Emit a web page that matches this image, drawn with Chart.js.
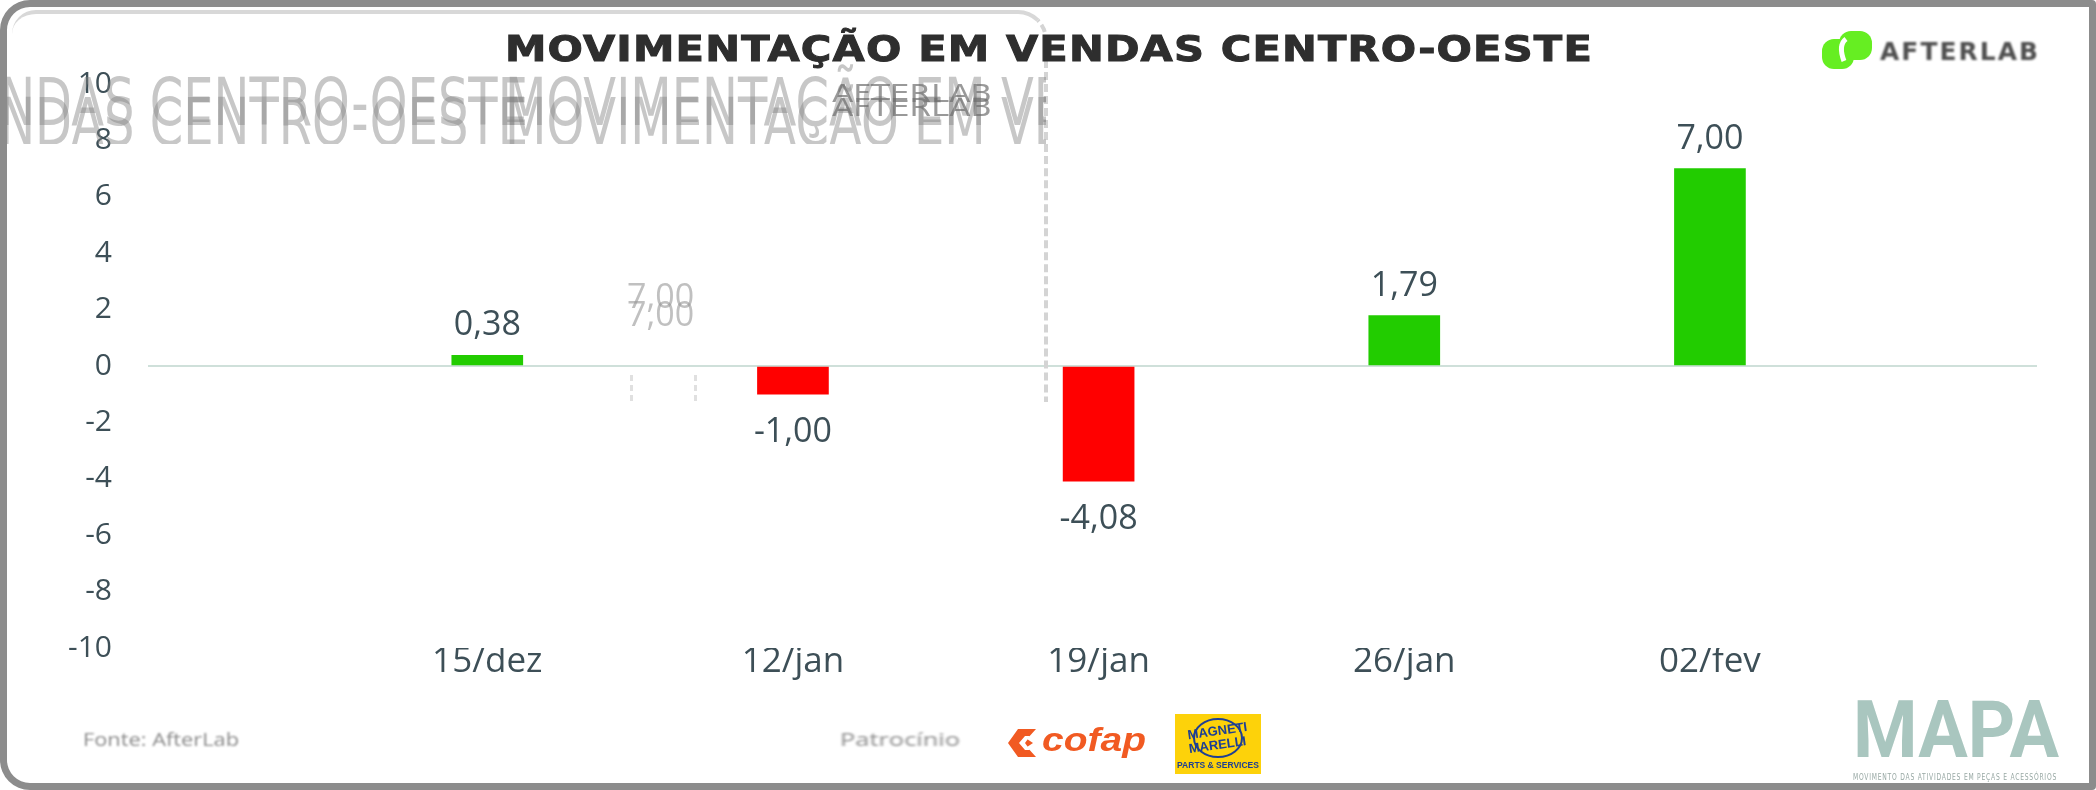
<!DOCTYPE html>
<html lang="pt-BR">
<head>
<meta charset="utf-8">
<title>Movimentação em vendas Centro-Oeste</title>
<script src="https://cdn.jsdelivr.net/npm/chart.js@4.4.1/dist/chart.umd.min.js"></script>
<style>
  html, body { margin: 0; padding: 0; background: #fff; }
  #wrap { position: relative; width: 2096px; height: 790px; overflow: hidden; background: #fff; font-family: 'Open Sans', sans-serif; }
  #vendasChart { position: absolute; left: 0; top: 0; }
  .abs { position: absolute; white-space: nowrap; transform-origin: 0 0; }
  .frame { position: absolute; left: 0; top: 0; width: 2096px; height: 790px; box-sizing: border-box; border: 7px solid #8c8c8c; border-radius: 30px 4px 4px 30px; pointer-events: none; }
  .ghost-box { position: absolute; left: 12px; top: 10px; width: 1036px; height: 392px; box-sizing: border-box; border-top: 4px solid #d8d8d8; border-right: 4px dashed #d4d4d4; border-radius: 24px 30px 0 0; }
  .title { left: 505px; top: 28px; font: bold 36px 'DejaVu Sans'; color: #2e2e2e; letter-spacing: 1px; -webkit-text-stroke: 1px #2e2e2e; }
  .ghost-row { position: absolute; left: 0; top: 64px; width: 1046px; height: 80px; overflow: hidden; }
  .ghost-row .abs { font: 36px 'DejaVu Sans'; color: rgba(130,130,130,0.45); }
  .ghost-lab { font: 24px 'DejaVu Sans'; color: rgba(110,110,110,0.7); }
  .ghost-val { font: 34px 'Open Sans'; color: rgba(150,150,150,0.6); }
  .dash { position: absolute; border-left: 3px dashed #e0e0e0; }
  .logo-text { left: 1880px; top: 38px; font: bold 24px 'DejaVu Sans'; color: #505050; letter-spacing: 2px; filter: blur(0.8px); }
  .foot { font: 19px 'Open Sans'; color: #8a8a8a; filter: blur(1px); }
  .mapa { left: 1853px; top: 690px; font: bold 80px 'Roboto'; color: #a9c6bf; line-height: 1; }
  .mapa-sub { left: 1853px; top: 773px; font: 8px 'DejaVu Sans'; color: #98a8a4; letter-spacing: 1px; }
  .cofap { left: 1042px; top: 720px; font: italic bold 34px 'Liberation Sans'; color: #f15a22; }
</style>
</head>
<body>
<div id="wrap">
  <canvas id="vendasChart" width="2096" height="790"></canvas>

  <div class="ghost-box"></div>
  <div class="dash" style="left:630px;top:375px;height:26px;"></div>
  <div class="dash" style="left:694px;top:375px;height:26px;"></div>
  <div class="ghost-row">
    <span class="abs gtitle" data-x="505" data-y="0">MOVIMENTAÇÃO EM VENDAS CENTRO-OESTE</span>
    <span class="abs gtitle" data-x="505" data-y="20">MOVIMENTAÇÃO EM VENDAS CENTRO-OESTE</span>
    <span class="abs gtitle" data-x="-560" data-y="0">MOVIMENTAÇÃO EM VENDAS CENTRO-OESTE</span>
    <span class="abs gtitle" data-x="-560" data-y="20">MOVIMENTAÇÃO EM VENDAS CENTRO-OESTE</span>
  </div>
  <span class="abs ghost-lab" id="ghostLab1" style="left:832px;top:80px;">AFTERLAB</span>
  <span class="abs ghost-lab" id="ghostLab2" style="left:832px;top:94px;">AFTERLAB</span>
  <span class="abs ghost-val" style="left:627px;top:272px;">7,00</span>
  <span class="abs ghost-val" style="left:627px;top:290px;">7,00</span>

  <span class="abs title" id="title">MOVIMENTAÇÃO EM VENDAS CENTRO-OESTE</span>

  <svg class="abs" style="left:1822px;top:31px;" width="52" height="38" viewBox="0 0 52 38">
    <rect x="0" y="8" width="32" height="30" rx="12" fill="#66ee22"/>
    <rect x="17" y="0" width="33" height="29" rx="12" fill="#66ee22"/>
    <path d="M24 8 Q16 14 22 30" stroke="#fff" stroke-width="5" fill="none"/>
  </svg>
  <span class="abs logo-text" id="logoText">AFTERLAB</span>

  <span class="abs foot" id="fonte" style="left:83px;top:726px;">Fonte: AfterLab</span>
  <span class="abs foot" id="patro" style="left:840px;top:726px;">Patrocínio</span>

  <svg class="abs" style="left:1006px;top:728px;" width="36" height="30" viewBox="0 0 36 30">
    <path d="M2 15 L12 1 H30 L21 11 L27 15 L21 19 L30 29 H12 Z" fill="#f15a22"/>
    <path d="M13 15 L19 8 H24 L19 15 L24 22 H19 Z" fill="#fff"/>
  </svg>
  <span class="abs cofap" id="cofap">cofap</span>

  <svg class="abs" style="left:1175px;top:714px;" width="86" height="60" viewBox="0 0 86 60">
    <rect x="0" y="0" width="86" height="60" fill="#fdd20a"/>
    <ellipse cx="43" cy="24" rx="24" ry="19" fill="none" stroke="#1d3f94" stroke-width="2"/>
    <text x="43" y="21" text-anchor="middle" font-family="Liberation Sans Narrow, Liberation Sans" font-weight="bold" font-size="13" fill="#1d3f94" transform="rotate(-8 43 21)">MAGNETI</text>
    <text x="43" y="35" text-anchor="middle" font-family="Liberation Sans Narrow, Liberation Sans" font-weight="bold" font-size="13" fill="#1d3f94" transform="rotate(-8 43 35)">MARELLI</text>
    <text x="43" y="54" text-anchor="middle" font-family="Liberation Sans Narrow, Liberation Sans" font-weight="bold" font-size="8.5" fill="#1d3f94">PARTS &amp; SERVICES</text>
  </svg>

  <span class="abs mapa" id="mapa">MAPA</span>
  <span class="abs mapa-sub" id="mapaSub">MOVIMENTO DAS ATIVIDADES EM PEÇAS E ACESSÓRIOS</span>

  <div class="frame"></div>
</div>
<script>
const categories = ['15/dez', '12/jan', '19/jan', '26/jan', '02/fev'];
const variation = [0.38, -1.00, -4.08, 1.79, 7.00];
const yTicks = [-10, -8, -6, -4, -2, 0, 2, 4, 6, 8, 10];

const textColor = '#3d4f57';
const canvas = document.getElementById('vendasChart');

function fitWidth(el, width, sy) {
  const w = el.getBoundingClientRect().width;
  el.style.transform = `scale(${width / w}, ${sy || 1})`;
}

function fmt(v) {
  return v.toFixed(2).replace('.', ',');
}

const valueLabels = {
  id: 'valueLabels',
  afterDatasetsDraw(chart) {
    const ctx = chart.ctx;
    const meta = chart.getDatasetMeta(0);
    ctx.save();
    ctx.font = '34px "Open Sans"';
    ctx.fillStyle = textColor;
    ctx.textAlign = 'center';
    ctx.textBaseline = 'alphabetic';
    meta.data.forEach((bar, i) => {
      const v = variation[i];
      ctx.fillText(fmt(v), bar.x, v >= 0 ? bar.y - 20 : bar.y + 48);
    });
    ctx.restore();
  }
};

function drawChart() {
  fitWidth(document.getElementById('title'), 1088);
  document.querySelectorAll('.gtitle').forEach(el => {
    el.style.left = el.dataset.x + 'px';
    el.style.top = el.dataset.y + 'px';
    fitWidth(el, 1088, 1.85);
  });
  fitWidth(document.getElementById('ghostLab1'), 160);
  fitWidth(document.getElementById('ghostLab2'), 160);
  fitWidth(document.getElementById('logoText'), 160);
  fitWidth(document.getElementById('fonte'), 156);
  fitWidth(document.getElementById('patro'), 120);
  fitWidth(document.getElementById('cofap'), 104);
  fitWidth(document.getElementById('mapa'), 206);
  fitWidth(document.getElementById('mapaSub'), 204);

  new Chart(canvas, {
    type: 'bar',
    data: {
      datasets: [{
        data: categories.map((c, i) => ({ x: i + 1, y: variation[i] })),
        backgroundColor: variation.map(v => v >= 0 ? '#22cc00' : '#ff0000'),
        barThickness: 71
      }]
    },
    options: {
      responsive: false,
      animation: false,
      layout: { padding: { top: 84, right: 59, left: 0, bottom: 0 } },
      plugins: { legend: { display: false }, tooltip: { enabled: false } },
      scales: {
        x: {
          type: 'linear',
          offset: false,
          min: -0.11,
          max: 6.07,
          afterBuildTicks: s => { s.ticks = categories.map((c, i) => ({ value: i + 1 })); },
          afterFit: s => { s.height = 142; },
          grid: { display: false },
          border: { display: false },
          ticks: {
            autoSkip: false,
            maxRotation: 0,
            padding: -15,
            color: textColor,
            font: { family: 'Open Sans', size: 35 },
            callback: v => categories[v - 1]
          }
        },
        y: {
          min: -10,
          max: 10,
          afterBuildTicks: s => { s.ticks = yTicks.map(v => ({ value: v })); },
          afterFit: s => { s.width = 148; },
          grid: {
            drawTicks: false,
            lineWidth: 2,
            color: c => (c.tick && c.tick.value === 0) ? '#cfe0da' : 'rgba(0,0,0,0)'
          },
          border: { display: false },
          ticks: {
            padding: 36,
            color: textColor,
            font: { family: 'Open Sans', size: 30 },
            callback: v => String(v)
          }
        }
      }
    },
    plugins: [valueLabels]
  });
}

Promise.all([
  document.fonts.load('34px "Open Sans"'),
  document.fonts.load('bold 36px "DejaVu Sans"'),
  document.fonts.load('36px "DejaVu Sans"'),
  document.fonts.load('bold 80px "Roboto"'),
  document.fonts.load('italic bold 34px "Liberation Sans"')
]).then(drawChart, drawChart);
</script>
</body>
</html>
